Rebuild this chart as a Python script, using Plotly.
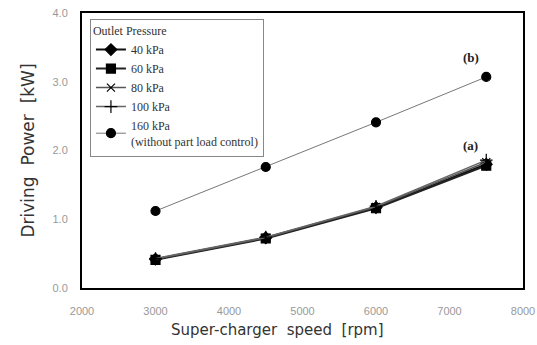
import plotly.graph_objects as go

speed = [3000, 4500, 6000, 7500]
p40 = [0.42, 0.73, 1.17, 1.80]
p60 = [0.41, 0.72, 1.16, 1.78]
p80 = [0.42, 0.73, 1.18, 1.83]
p100 = [0.43, 0.74, 1.19, 1.86]
p160 = [1.12, 1.76, 2.41, 3.07]

names = ["40 kPa", "60 kPa", "80 kPa", "100 kPa", "160 kPa<br>(without part load control)"]
series = [p40, p60, p80, p100, p160]
symbols = ["diamond", "square", "x-thin-open", "cross-thin-open", "circle"]
sizes = [9, 9, 8, 9, 9]
lcolors = ["#111111", "#222222", "#555555", "#666666", "#777777"]
lwidths = [2, 2, 1.5, 1.5, 1]

fig = go.Figure()
for n, y, s, sz, lc, lw in zip(names, series, symbols, sizes, lcolors, lwidths):
    fig.add_trace(go.Scatter(
        x=speed, y=y, name=n, mode="lines+markers",
        line=dict(color=lc, width=lw),
        marker=dict(symbol=s, size=sz, color="black",
                    line=dict(color="black", width=1.2)),
    ))

fig.add_annotation(x=7290, y=3.35, text="<b>(b)</b>", showarrow=False,
                   font=dict(family="Liberation Serif", size=13, color="#222"))
fig.add_annotation(x=7290, y=2.08, text="<b>(a)</b>", showarrow=False,
                   font=dict(family="Liberation Serif", size=13, color="#222"))
fig.add_annotation(x=0.444, y=-0.153, xref="paper", yref="paper",
                   xanchor="center", yanchor="middle", showarrow=False,
                   text="Super-charger  speed  [rpm]",
                   font=dict(family="DejaVu Sans", size=15, color="#333"))

axis_common = dict(showgrid=False, zeroline=False, showline=True, linecolor="black",
                   linewidth=2, mirror=True, ticks="", automargin=False,
                   tickfont=dict(family="Liberation Sans", size=11, color="#999999"))
fig.update_xaxes(range=[2000, 8000], tickvals=[2000, 3000, 4000, 5000, 6000, 7000, 8000],
                 ticklabelstandoff=12, **axis_common)
fig.update_yaxes(range=[0, 4], tickvals=[0, 1, 2, 3, 4], tickformat=".1f",
                 ticklabelstandoff=10,
                 title=dict(text="Driving  Power  [kW]", standoff=14,
                            font=dict(family="DejaVu Sans", size=17, color="#333")),
                 **axis_common)

fig.update_layout(
    width=537, height=345,
    margin=dict(l=82, r=14, t=13, b=57),
    plot_bgcolor="white", paper_bgcolor="white",
    legend=dict(x=0.018, y=0.98, xanchor="left", yanchor="top",
                bgcolor="white", bordercolor="#888", borderwidth=1,
                title=dict(text="Outlet Pressure", font=dict(family="Liberation Serif", size=12, color="#333")),
                font=dict(family="Liberation Serif", size=12, color="#333"),
                tracegroupgap=0, itemwidth=30),
)

fig.write_html("out.html")
